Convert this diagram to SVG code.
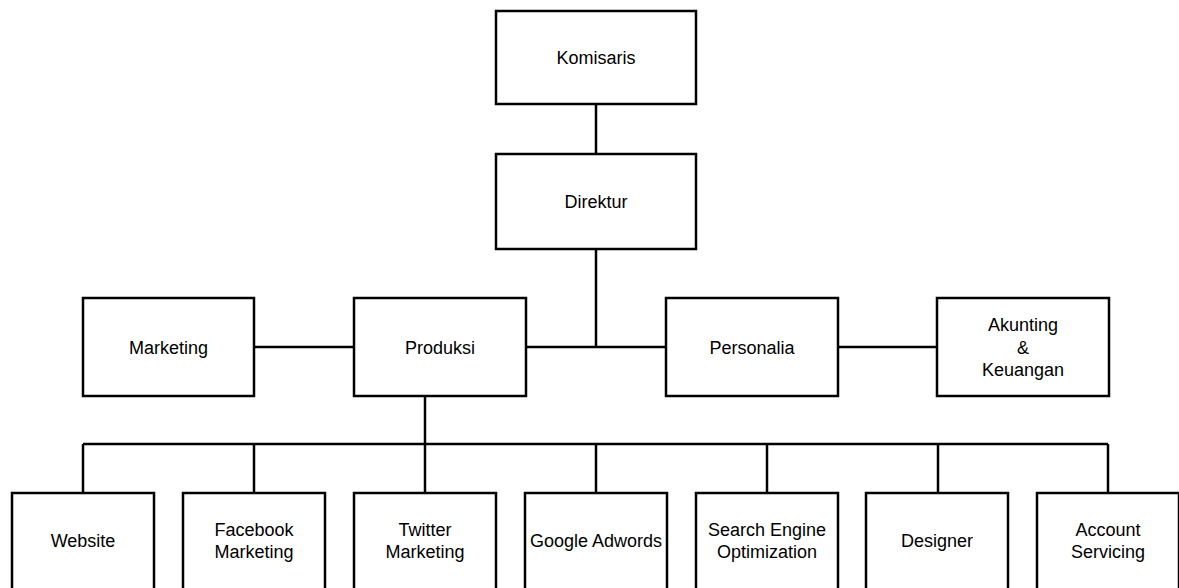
<svg xmlns="http://www.w3.org/2000/svg" width="1179" height="588" viewBox="0 0 1179 588">
<style>
.box{fill:#fff;stroke:#000;stroke-width:2.5}
.ln{stroke:#000;stroke-width:2.5;fill:none}
text{font-family:"Liberation Sans",Arial,sans-serif;font-size:18px;fill:#000;text-anchor:middle;dominant-baseline:central}
</style>
<rect width="1179" height="588" fill="#fff"/>
<g id="connectors">
<line class="ln" x1="596" y1="104" x2="596" y2="154"/>
<line class="ln" x1="596" y1="249" x2="596" y2="347"/>
<line class="ln" x1="254" y1="347" x2="354" y2="347"/>
<line class="ln" x1="526" y1="347" x2="666" y2="347"/>
<line class="ln" x1="838" y1="347" x2="937" y2="347"/>
<line class="ln" x1="425" y1="396" x2="425" y2="444"/>
<line class="ln" x1="83" y1="444" x2="1108" y2="444"/>
<line class="ln" x1="83" y1="444" x2="83" y2="493"/>
<line class="ln" x1="254" y1="444" x2="254" y2="493"/>
<line class="ln" x1="425" y1="444" x2="425" y2="493"/>
<line class="ln" x1="596" y1="444" x2="596" y2="493"/>
<line class="ln" x1="767" y1="444" x2="767" y2="493"/>
<line class="ln" x1="938" y1="444" x2="938" y2="493"/>
<line class="ln" x1="1108" y1="444" x2="1108" y2="493"/>
</g>
<g id="komisaris"><rect class="box" x="496" y="11" width="200" height="93"/><text x="596" y="58">Komisaris</text></g>
<g id="direktur"><rect class="box" x="496" y="154" width="200" height="95"/><text x="596" y="202">Direktur</text></g>
<g id="marketing"><rect class="box" x="83" y="298" width="171" height="98"/><text x="168.5" y="348">Marketing</text></g>
<g id="produksi"><rect class="box" x="354" y="298" width="172" height="98"/><text x="440" y="348">Produksi</text></g>
<g id="personalia"><rect class="box" x="666" y="298" width="172" height="98"/><text x="752" y="348">Personalia</text></g>
<g id="akunting"><rect class="box" x="937" y="298" width="172" height="98"/><text x="1023" y="325">Akunting</text><text x="1023" y="347.5">&amp;</text><text x="1023" y="370">Keuangan</text></g>
<g id="website"><rect class="box" x="12" y="493" width="142" height="97"/><text x="83" y="541">Website</text></g>
<g id="facebook"><rect class="box" x="183" y="493" width="142" height="97"/><text x="254" y="530">Facebook</text><text x="254" y="552">Marketing</text></g>
<g id="twitter"><rect class="box" x="354" y="493" width="142" height="97"/><text x="425" y="530">Twitter</text><text x="425" y="552">Marketing</text></g>
<g id="google"><rect class="box" x="525" y="493" width="142" height="97"/><text x="596" y="541">Google Adwords</text></g>
<g id="seo"><rect class="box" x="696" y="493" width="142" height="97"/><text x="767" y="530">Search Engine</text><text x="767" y="552">Optimization</text></g>
<g id="designer"><rect class="box" x="866" y="493" width="142" height="97"/><text x="937" y="541">Designer</text></g>
<g id="account"><rect class="box" x="1037" y="493" width="142" height="97"/><text x="1108" y="530">Account</text><text x="1108" y="552">Servicing</text></g>
</svg>
